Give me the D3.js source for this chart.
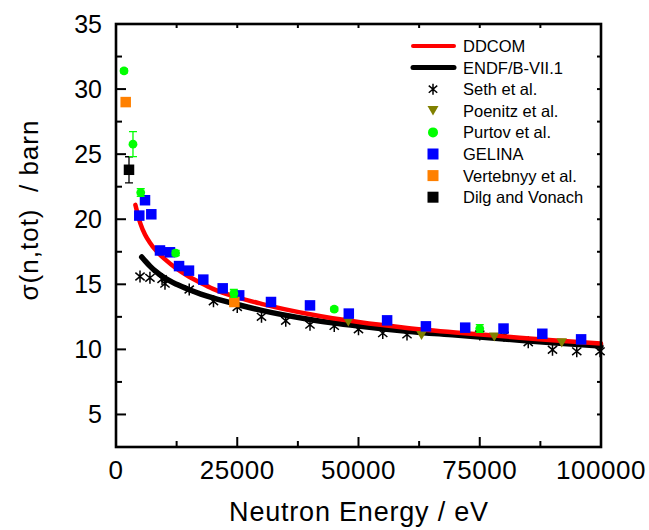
<!DOCTYPE html>
<html><head><meta charset="utf-8">
<script src="https://cdn.jsdelivr.net/npm/d3@7"></script>
<style>body{margin:0;background:#fff}svg{display:block;font-family:"Liberation Sans",Arial,Helvetica,sans-serif}</style>
</head><body><svg id="c" width="649" height="530"></svg>
<script>
// ---- data ----
const ddcomE = [4000,5000,6000,7000,8000,9000,10000,12500,15000,17500,20000,25000,30000,40000,50000,60000,70000,80000,90000,100000];
const ddcomV = [21.1,19.7,18.8,18.2,17.7,17.3,16.95,16.2,15.6,15.1,14.65,14.0,13.5,12.7,12.1,11.65,11.3,11.0,10.7,10.45];
const endfE = [5300,6000,7000,8000,10000,12500,15000,17500,20000,25000,30000,40000,50000,60000,70000,80000,90000,100000];
const endfV = [17.1,16.8,16.4,16.05,15.5,15.0,14.6,14.25,13.95,13.45,13.0,12.3,11.8,11.4,11.1,10.8,10.5,10.25];
const sethE = [4950,7000,9500,10100,15100,20100,25000,30000,35000,40000,45000,50000,55000,60000,75000,80000,85000,90000,95000,99800];
const sethV = [15.6,15.5,15.4,15.05,14.6,13.7,13.25,12.5,12.2,11.9,11.8,11.55,11.25,11.15,11.15,11.05,10.55,9.97,9.85,9.85];
const poenitzE = [47900,63000,78000,91900];
const poenitzV = [12.1,11.07,10.95,10.5];
const purtovE = [1650,3500,5100,12300,24300,45000,75000];
const purtovV = [31.4,25.77,22.05,17.4,14.3,13.1,11.6];
const purtovErr = [0.15,0.96,0.3,0.2,0.3,0.15,0.3];
const gelinaE = [4800,5980,7280,9070,11130,13000,15050,18000,22000,25400,31960,40000,48000,55900,63900,72000,79900,87900,95900];
const gelinaV = [20.28,21.46,20.38,17.6,17.46,16.4,16.05,15.36,14.69,14.15,13.64,13.38,12.75,12.23,11.77,11.67,11.6,11.2,10.77];
const vertE = [2000,24400];
const vertV = [29.0,13.64];
const dilgE = [2680];
const dilgV = [23.8];
const dilgErr = [1.0];
const xTicks = [0,25000,50000,75000,100000];
const yTicks = [5,10,15,20,25,30,35];
const legendLabels = ["DDCOM","ENDF/B-VII.1","Seth et al.","Poenitz et al.","Purtov et al.","GELINA","Vertebnyy et al.","Dilg and Vonach"];

// ---- chart ----
const svg = d3.select("#c");
const L=116,R=601,T=24,B=447;
const x = d3.scaleLinear().domain([0,100000]).range([L,R]);
const y = d3.scaleLinear().domain([2.5,35]).range([B,T]);
const zip = (a,b,c)=>a.map((v,i)=>({e:v,v:b[i],err:c?c[i]:0}));

const COL = {red:"#ff0000",green:"#00ff00",blue:"#0000ff",orange:"#ff8000",olive:"#808000"};

function star(g,cx,cy,s){
  const r=s/2, d=r*0.77, e=r*0.64;
  const p = `M${cx},${cy-r}L${cx},${cy+r}M${cx-d},${cy-e}L${cx+d},${cy+e}M${cx-d},${cy+e}L${cx+d},${cy-e}`;
  g.append("path").attr("d",p).attr("stroke","#000").attr("stroke-width",1.5).attr("fill","none");
}
function tri(g,cx,cy,s,c){
  const h=s*0.866;
  g.append("path").attr("d",`M${cx-s/2},${cy-h/2}L${cx+s/2},${cy-h/2}L${cx},${cy+h/2}Z`).attr("fill",c);
}
function sq(g,cx,cy,s,c){ g.append("rect").attr("x",cx-s/2).attr("y",cy-s/2).attr("width",s).attr("height",s).attr("fill",c); }
function circ(g,cx,cy,r,c){ g.append("circle").attr("cx",cx).attr("cy",cy).attr("r",r).attr("fill",c); }
function errbar(g,d,c){
  if(!d.err) return;
  const cx=x(d.e), y1=y(d.v+d.err), y2=y(d.v-d.err);
  g.append("path").attr("d",`M${cx},${y1}L${cx},${y2}M${cx-4},${y1}L${cx+4},${y1}M${cx-4},${y2}L${cx+4},${y2}`)
   .attr("stroke",c).attr("stroke-width",1.3).attr("fill","none");
}

const plot = svg.append("g");
zip(sethE,sethV).forEach(d=>star(plot,x(d.e),y(d.v),12));
const line = d3.line().x(d=>x(d.e)).y(d=>y(d.v)).curve(d3.curveMonotoneX);
plot.append("path").datum(zip(endfE,endfV)).attr("d",line).attr("fill","none").attr("stroke","#000").attr("stroke-width",5.5).attr("stroke-linecap","round");
plot.append("path").datum(zip(ddcomE,ddcomV)).attr("d",line).attr("fill","none").attr("stroke",COL.red).attr("stroke-width",4.5).attr("stroke-linecap","round");
zip(poenitzE,poenitzV).forEach(d=>tri(plot,x(d.e),y(d.v),10.5,COL.olive));
zip(gelinaE,gelinaV).forEach(d=>sq(plot,x(d.e),y(d.v),10.5,COL.blue));
zip(vertE,vertV).forEach(d=>sq(plot,x(d.e),y(d.v),10.5,COL.orange));
zip(dilgE,dilgV,dilgErr).forEach(d=>{errbar(plot,d,"#000");sq(plot,x(d.e),y(d.v),10.5,"#000");});
zip(purtovE,purtovV,purtovErr).forEach(d=>{errbar(plot,d,COL.green);circ(plot,x(d.e),y(d.v),4.4,COL.green);});

// axes frame
const ax = svg.append("g");
const minorY = d3.range(5,35,2.5);
const minorX = d3.range(0,100001,12500);
minorY.forEach(v=>{
  const major = v%5===0;
  ax.append("line").attr("x1",L).attr("x2",L+(major?10:6)).attr("y1",y(v)).attr("y2",y(v)).attr("stroke","#000").attr("stroke-width",2);
  ax.append("line").attr("x1",R).attr("x2",R-4).attr("y1",y(v)).attr("y2",y(v)).attr("stroke","#000").attr("stroke-width",2);
});
minorX.forEach(v=>{
  const major = v%25000===0;
  ax.append("line").attr("y1",B).attr("y2",B-(major?10:6)).attr("x1",x(v)).attr("x2",x(v)).attr("stroke","#000").attr("stroke-width",2);
  ax.append("line").attr("y1",T).attr("y2",T+4).attr("x1",x(v)).attr("x2",x(v)).attr("stroke","#000").attr("stroke-width",2);
});
ax.append("rect").attr("x",L).attr("y",T).attr("width",R-L).attr("height",B-T).attr("fill","none").attr("stroke","#000").attr("stroke-width",2.6);

// tick labels
yTicks.forEach(v=>{
  ax.append("text").attr("x",102).attr("y",y(v)).attr("dy","0.36em").attr("text-anchor","end").attr("font-size",25).text(d3.format("d")(v));
});
xTicks.forEach(v=>{
  ax.append("text").attr("x",x(v)).attr("y",479).attr("text-anchor","middle").attr("font-size",26).attr("letter-spacing",0.5).text(d3.format("d")(v));
});
ax.append("text").attr("x",359).attr("y",521).attr("text-anchor","middle").attr("font-size",27).attr("letter-spacing",0.8).text("Neutron Energy / eV");
ax.append("text").attr("transform","translate(38,210) rotate(-90)").attr("text-anchor","middle").attr("font-size",26).attr("letter-spacing",1).attr("xml:space","preserve").style("white-space","pre").text("\u03c3(n,tot)  / barn");

// legend
const lg = svg.append("g");
const ly0=46, ldy=21.6, lx1=413, lx2=454, lsx=433, ltx=463;
legendLabels.forEach((t,i)=>{
  const yy = ly0+i*ldy;
  if(i===0) lg.append("line").attr("x1",lx1).attr("x2",lx2).attr("y1",yy).attr("y2",yy).attr("stroke",COL.red).attr("stroke-width",4).attr("stroke-linecap","round");
  if(i===1) lg.append("line").attr("x1",lx1).attr("x2",lx2).attr("y1",yy).attr("y2",yy).attr("stroke","#000").attr("stroke-width",5).attr("stroke-linecap","round");
  if(i===2) star(lg,lsx,yy,11);
  if(i===3) tri(lg,lsx,yy,11,COL.olive);
  if(i===4) circ(lg,lsx,yy,5,COL.green);
  if(i===5) sq(lg,lsx,yy,11,COL.blue);
  if(i===6) sq(lg,lsx,yy,11,COL.orange);
  if(i===7) sq(lg,lsx,yy,11,"#000");
  lg.append("text").attr("x",ltx).attr("y",yy).attr("dy","0.36em").attr("font-size",16.5).text(t);
});
</script></body></html>
